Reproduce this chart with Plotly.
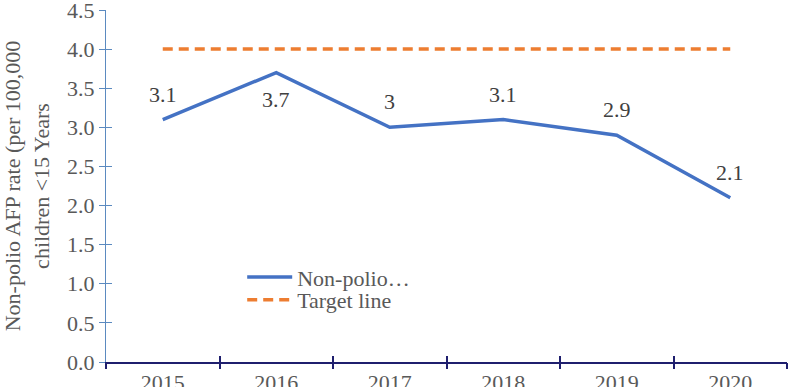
import plotly.graph_objects as go

years = ["2015", "2016", "2017", "2018", "2019", "2020"]
afp_rate = [3.1, 3.7, 3.0, 3.1, 2.9, 2.1]
afp_labels = ["3.1", "3.7", "3", "3.1", "2.9", "2.1"]
label_below = [False, True, False, False, False, False]
target = [4, 4, 4, 4, 4, 4]
y_ticks = [0, 0.5, 1.0, 1.5, 2.0, 2.5, 3.0, 3.5, 4.0, 4.5]

FONT = "Liberation Serif, Times New Roman, serif"
GREY = "#595959"
YCOL = "#5B8AC0"
XCOL = "#1F1F6E"
FS = 22

fig = go.Figure()
fig.add_trace(go.Scatter(
    x=years, y=afp_rate, mode="lines", name="Non-polio…",
    line=dict(color="#4472C4", width=3.5), legend="legend",
))
fig.add_trace(go.Scatter(
    x=years, y=target, mode="lines", name="Target line",
    line=dict(color="#ED7D31", width=3.5, dash="10px,6px"), legend="legend2",
))

for i, (yv, lab, below) in enumerate(zip(afp_rate, afp_labels, label_below)):
    fig.add_annotation(
        x=i, y=yv, xref="x", yref="y", text=lab, showarrow=False,
        yanchor="top" if below else "bottom",
        yshift=-12 if below else 11,
        font=dict(family=FONT, size=FS, color="#404040"),
    )

leg_common = dict(xanchor="left", yanchor="middle",
                  font=dict(family=FONT, size=FS, color=GREY),
                  bgcolor="rgba(0,0,0,0)", itemwidth=45)

tick_axis = dict(type="category", range=[-0.5, 5.5], overlaying="x", anchor="y",
                 tickson="boundaries", ticklen=6, tickcolor=XCOL, tickwidth=1.5,
                 showticklabels=False, showgrid=False, zeroline=False,
                 side="bottom", categoryarray=years, categoryorder="array",
                 tickvals=years, automargin=False)

fig.update_layout(
    width=790, height=387,
    margin=dict(l=106, r=3, t=10, b=25, autoexpand=False),
    plot_bgcolor="white", paper_bgcolor="white",
    font=dict(family=FONT, size=FS, color=GREY),
    showlegend=True,
    legend=dict(x=0.2, y=0.241, **leg_common),
    legend2=dict(x=0.2, y=0.176, **leg_common),
    xaxis=dict(type="category", range=[-0.5, 5.5], ticks="",
               showline=True, linecolor=XCOL, linewidth=1.5, automargin=False,
               showgrid=False, zeroline=False, ticklabeloverflow="allow",
               tickfont=dict(family=FONT, size=FS, color=GREY)),
    yaxis=dict(range=[0, 4.5], tickvals=y_ticks, tickformat=".1f",
               ticks="outside", ticklen=6, tickcolor=YCOL, tickwidth=1,
               showline=True, linecolor=YCOL, linewidth=1, automargin=False,
               showgrid=False, zeroline=False, ticklabeloverflow="allow",
               tickfont=dict(family=FONT, size=FS, color=GREY),
               title=dict(text="Non-polio AFP rate (per 100,000<br>children <15 Years",
                          font=dict(family=FONT, size=FS, color=GREY), standoff=26)),
    xaxis2=dict(ticks="inside", **tick_axis),
    xaxis3=dict(ticks="outside", **tick_axis),
    yaxis2=dict(range=[0, 4.5], overlaying="y", anchor="x", tickvals=y_ticks,
                ticks="inside", ticklen=6, tickcolor=YCOL, tickwidth=1, automargin=False,
                showticklabels=False, showgrid=False, zeroline=False, side="left"),
)
# invisible traces to activate overlay axes
fig.add_trace(go.Scatter(x=years, y=afp_rate, xaxis="x2", yaxis="y2",
                         mode="lines", line=dict(width=0), opacity=0,
                         showlegend=False, hoverinfo="skip"))
fig.add_trace(go.Scatter(x=years, y=afp_rate, xaxis="x3", yaxis="y",
                         mode="lines", line=dict(width=0), opacity=0,
                         showlegend=False, hoverinfo="skip"))

fig.write_html("out.html", config={"displayModeBar": False},
               post_script="document.body.style.margin='0';document.body.style.overflow='hidden';")
